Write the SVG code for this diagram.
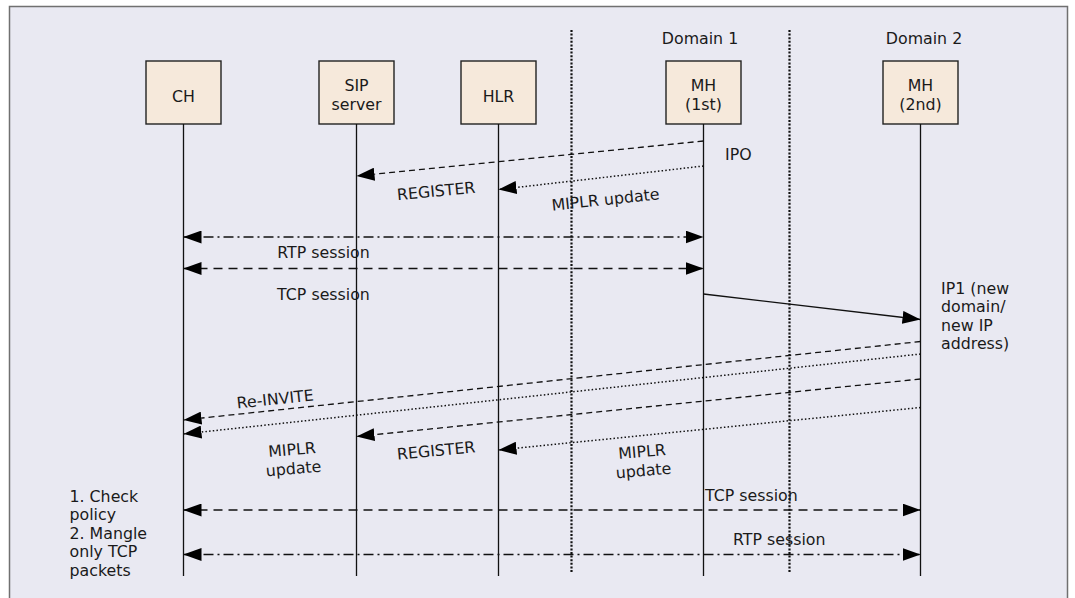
<svg xmlns="http://www.w3.org/2000/svg" width="1075" height="598" viewBox="0 0 1075 598">
<style>
text{font-family:"DejaVu Sans","Liberation Sans",sans-serif;font-size:15.8px;fill:#1a1a1a}
.box{fill:#f6e9db;stroke:#222;stroke-width:1.4}
.life{stroke:#111;stroke-width:1.3;fill:none}
.div{stroke:#111;stroke-width:2.2;stroke-dasharray:2 1.6;fill:none}
.c{stroke:#111;stroke-width:1.3;fill:none}
.dh{stroke-dasharray:9 6}
.ds{stroke-dasharray:6 4}
.dd{stroke-dasharray:10 4 2 4}
.dt{stroke-width:1.5;stroke-dasharray:1.5 2.2}
.m{text-anchor:middle}
</style>
<defs>
<marker id="ah" viewBox="0 0 18 13" refX="18" refY="6.5" markerWidth="18" markerHeight="13" markerUnits="userSpaceOnUse" orient="auto-start-reverse">
<path d="M0,0 L18,6.5 L0,13 z" fill="#000" stroke="none"/>
</marker>
</defs>
<rect x="0" y="0" width="1075" height="598" fill="#fff"/>
<rect x="9.5" y="6.5" width="1058" height="600" fill="#e9e9f2" stroke="#707070" stroke-width="1.5"/>
<g id="domains">
<line class="div" x1="571.5" y1="30" x2="571.5" y2="573"/>
<line class="div" x1="789.5" y1="30" x2="789.5" y2="573"/>
<text class="m" x="700" y="43.5">Domain 1</text>
<text class="m" x="924" y="43.5">Domain 2</text>
</g>
<g id="CH">
<rect class="box" x="146" y="61" width="75" height="63"/>
<text class="m" x="183.5" y="101.5">CH</text>
<line class="life" x1="183.5" y1="124" x2="183.5" y2="576"/>
</g>
<g id="SIP">
<rect class="box" x="319" y="61" width="75" height="63"/>
<text class="m" x="356.5" y="91">SIP</text>
<text class="m" x="356.5" y="110">server</text>
<line class="life" x1="356.5" y1="124" x2="356.5" y2="576"/>
</g>
<g id="HLR">
<rect class="box" x="461" y="61" width="75" height="63"/>
<text class="m" x="498.5" y="101.5">HLR</text>
<line class="life" x1="498.5" y1="124" x2="498.5" y2="576"/>
</g>
<g id="MH1">
<rect class="box" x="666" y="61" width="75" height="63"/>
<text class="m" x="703.5" y="91">MH</text>
<text class="m" x="703.5" y="110">(1st)</text>
<line class="life" x1="703.5" y1="124" x2="703.5" y2="576"/>
</g>
<g id="MH2">
<rect class="box" x="883" y="61" width="75" height="63"/>
<text class="m" x="920.5" y="91">MH</text>
<text class="m" x="920.5" y="110">(2nd)</text>
<line class="life" x1="920.5" y1="124" x2="920.5" y2="576"/>
</g>
<g id="connectors">
<line class="c ds" x1="703.5" y1="141" x2="356.5" y2="176" marker-end="url(#ah)"/>
<line class="c dt" x1="703.5" y1="166" x2="498.5" y2="189.5" marker-end="url(#ah)"/>
<line class="c dd" x1="183.5" y1="237" x2="703.5" y2="237" marker-start="url(#ah)" marker-end="url(#ah)"/>
<line class="c dh" x1="183.5" y1="268.5" x2="703.5" y2="268.5" marker-start="url(#ah)" marker-end="url(#ah)"/>
<line class="c" x1="703.5" y1="294" x2="920.5" y2="319.5" marker-end="url(#ah)"/>
<line class="c ds" x1="920.5" y1="341.5" x2="183.5" y2="420" marker-end="url(#ah)"/>
<line class="c dt" x1="920.5" y1="354" x2="183.5" y2="434" marker-end="url(#ah)"/>
<line class="c ds" x1="920.5" y1="379" x2="356.5" y2="436.5" marker-end="url(#ah)"/>
<line class="c dt" x1="920.5" y1="407.5" x2="498.5" y2="450" marker-end="url(#ah)"/>
<line class="c dh" x1="183.5" y1="510" x2="920.5" y2="510" marker-start="url(#ah)" marker-end="url(#ah)"/>
<line class="c dd" x1="183.5" y1="554.5" x2="920.5" y2="554.5" marker-start="url(#ah)" marker-end="url(#ah)"/>
</g>
<g id="labels">
<text x="725" y="160">IPO</text>
<text class="m" x="436.7" y="196.5" transform="rotate(-5.5 436.7 196.5)">REGISTER</text>
<text class="m" x="606" y="205" transform="rotate(-6 606 205)">MIPLR update</text>
<text class="m" x="323.5" y="258">RTP session</text>
<text class="m" x="323.5" y="300">TCP session</text>
<text x="941" y="294">IP1 (new</text>
<text x="941" y="312.4">domain/</text>
<text x="941" y="330.8">new IP</text>
<text x="941" y="349.2">address)</text>
<text class="m" x="275.7" y="404.5" transform="rotate(-6 275.7 404.5)">Re-INVITE</text>
<text class="m" x="292.5" y="455" transform="rotate(-5 292.5 455)">MIPLR</text>
<text class="m" x="294" y="474" transform="rotate(-5 294 474)">update</text>
<text class="m" x="436.7" y="456" transform="rotate(-5.5 436.7 456)">REGISTER</text>
<text class="m" x="642.5" y="457" transform="rotate(-5 642.5 457)">MIPLR</text>
<text class="m" x="644" y="476" transform="rotate(-5 644 476)">update</text>
<text x="705" y="500.7">TCP session</text>
<text x="733" y="545">RTP session</text>
<text x="69.5" y="501.7">1. Check</text>
<text x="69.5" y="520">policy</text>
<text x="69.5" y="538.5">2. Mangle</text>
<text x="69.5" y="557">only TCP</text>
<text x="69.5" y="575.5">packets</text>
</g>
</svg>
